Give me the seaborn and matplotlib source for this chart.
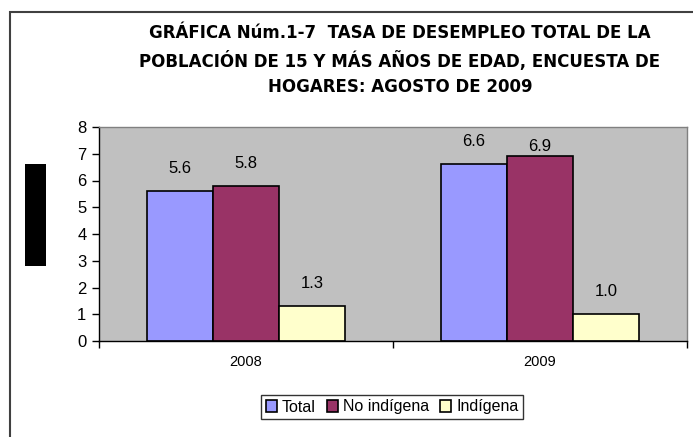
import matplotlib
matplotlib.use("Agg")
import matplotlib.pyplot as plt
from matplotlib.patches import Rectangle
import seaborn as sns
import pandas as pd

# data
years = ["2008", "2009"]
groups = ["Total", "No indígena", "Indígena"]
total = [5.6, 6.6]
no_indigena = [5.8, 6.9]
indigena = [1.3, 1.0]

colors = {"Total": "#9999FF", "No indígena": "#993366", "Indígena": "#FFFFCC"}

df = pd.DataFrame({
    "year": years * 3,
    "group": [g for g in groups for _ in years],
    "value": total + no_indigena + indigena,
})

sns.set_style("white")
plt.rcParams["font.family"] = ["Liberation Sans", "DejaVu Sans"]
plt.rcParams["text.color"] = "black"
plt.rcParams["xtick.color"] = "black"
plt.rcParams["ytick.color"] = "black"

fig = plt.figure(figsize=(6.93, 4.37), dpi=100)
ax = fig.add_axes([99 / 693, 1 - 341 / 437, 588 / 693, 214 / 437])

sns.barplot(data=df, x="year", y="value", hue="group", hue_order=groups,
            palette=colors, width=0.675, gap=0, edgecolor="black",
            linewidth=1.2, saturation=1, legend=True, ax=ax)

ax.set_facecolor("#C0C0C0")
ax.set_ylim(0, 8)
ax.set_xlim(-0.5, 1.5)
ax.set_yticks(range(0, 9))
ax.tick_params(axis="y", direction="out", length=5, width=1, labelsize=12,
               left=True, pad=4)
ax.set_xticks([-0.5, 0.5, 1.5], minor=True)
ax.tick_params(axis="x", which="minor", length=5, width=1, bottom=True)
ax.tick_params(axis="x", which="major", length=0, labelsize=10.5, pad=10)
ax.set_xlabel("")
ax.set_ylabel("")
for side in ["left", "bottom"]:
    ax.spines[side].set_color("black")
    ax.spines[side].set_linewidth(1)
for side in ["top", "right"]:
    ax.spines[side].set_color("#808080")
    ax.spines[side].set_linewidth(1)

# value labels (Excel squeezed the 6.9 label down a little)
label_pad = {6.9: 2}
for container in ax.containers:
    for bar in container:
        h = bar.get_height()
        ax.annotate(f"{h:.1f}", (bar.get_x() + bar.get_width() / 2, h),
                    xytext=(0, label_pad.get(h, 11)), textcoords="offset points",
                    ha="center", va="bottom", fontsize=12)

handles, labels = ax.get_legend_handles_labels()
ax.legend(handles, labels, loc="center", bbox_to_anchor=(392 / 693, 1 - 407 / 437),
          bbox_transform=fig.transFigure, ncol=3, frameon=True, fancybox=False,
          edgecolor="black", fontsize=11.5, handlelength=0.7, handleheight=0.7,
          handletextpad=0.3, columnspacing=0.7, borderpad=0.3)
ax.get_legend().get_frame().set_linewidth(1)

title = ("GRÁFICA Núm.1-7  TASA DE DESEMPLEO TOTAL DE LA\n"
         "POBLACIÓN DE 15 Y MÁS AÑOS DE EDAD, ENCUESTA DE\n"
         "HOGARES: AGOSTO DE 2009")
fig.text(400 / 693, 1 - 60 / 437, title, ha="center", va="center",
         fontsize=12, fontweight="bold", linespacing=1.5,
         family=["DejaVu Sans"])

# outer chart frame and the blacked-out axis label
fig.patches.append(Rectangle((10 / 693, -0.1), 1.0, 1.1 - 12 / 437,
                             transform=fig.transFigure, fill=False,
                             edgecolor="#404040", linewidth=1.5))
fig.patches.append(Rectangle((25 / 693, 1 - 266 / 437), 21 / 693, 102 / 437,
                             transform=fig.transFigure, facecolor="black",
                             edgecolor="none"))

fig.savefig("out.png", dpi=100)
